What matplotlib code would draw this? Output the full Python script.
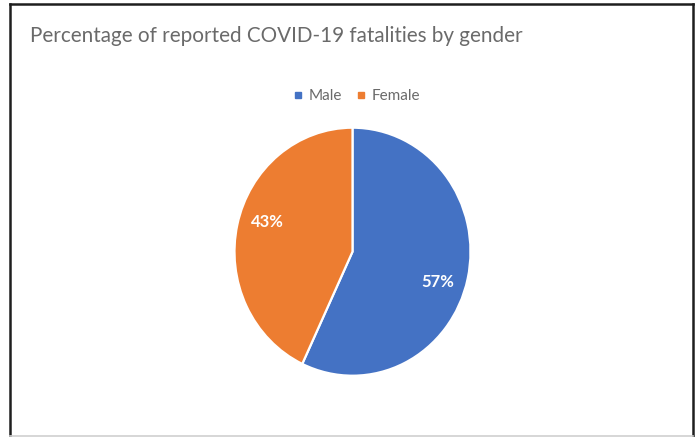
import matplotlib
matplotlib.use("Agg")
import numpy as np
import matplotlib.pyplot as plt
from matplotlib.lines import Line2D

# ---- data ----
categories = ["Male", "Female"]
values = [57, 43]
colors = ["#4472C4", "#ED7D31"]
title = "Percentage of reported COVID-19 fatalities by gender"

W, H = 697, 437
DPI = 100
plt.rcParams['font.family'] = ['Lato', 'DejaVu Sans']

fig = plt.figure(figsize=(W / DPI, H / DPI), dpi=DPI)
fig.patch.set_facecolor("white")

def fx(px):
    return px / W

def fy(py):
    return 1 - py / H

# ---- outer border (screenshot frame) ----
fig.add_artist(Line2D([fx(9.5), fx(9.5)], [fy(4), fy(436)], color="#1e1e1e", lw=1.8))
fig.add_artist(Line2D([fx(692.5), fx(692.5)], [fy(4), fy(436)], color="#1e1e1e", lw=1.8))
fig.add_artist(Line2D([fx(9.5), fx(692.5)], [fy(4), fy(4)], color="#1e1e1e", lw=1.8))
fig.add_artist(Line2D([fx(9.5), fx(692.5)], [fy(435.5), fy(435.5)], color="#cfcfcf", lw=1.2))

# ---- title, fitted to the reference width ----
t = fig.text(fx(30), fy(42.5), title, ha="left", va="baseline",
             color="#6a6a6a", fontsize=15)
fig.canvas.draw()
bb = t.get_window_extent()
target = 492.0
t.set_fontsize(15 * target / bb.width)

# ---- pie ----
cx, cy, rx, ry = 352.5, 251.7, 118, 124
ax = fig.add_axes([fx(cx - rx), fy(cy + ry), 2 * rx / W, 2 * ry / H])
wedges, texts, autotexts = ax.pie(
    values, colors=colors, startangle=90, counterclock=False,
    autopct="%1.0f%%", pctdistance=0.76,
    wedgeprops=dict(edgecolor="white", linewidth=1.6),
    textprops=dict(color="white", fontsize=12, fontweight="bold"))
for w in wedges:
    w.set_clip_on(False)
# nudge label positions slightly clockwise, as in the reference
rot = np.deg2rad(-6)
for at in autotexts:
    x, y = at.get_position()
    at.set_position((x * np.cos(rot) - y * np.sin(rot),
                     x * np.sin(rot) + y * np.cos(rot)))
ax.set_aspect("auto")
ax.set_xlim(-1, 1)
ax.set_ylim(-1, 1)

# ---- legend ----
handles = [Line2D([], [], marker="s", linestyle="none", color=c,
                  markersize=4.6) for c in colors]
leg = fig.legend(handles, categories, loc="center",
                 bbox_to_anchor=(fx(357.5), fy(96)), ncol=len(categories),
                 frameon=False, fontsize=11, handlelength=0.4,
                 handletextpad=0.45, columnspacing=1.1, borderpad=0)
for txt in leg.get_texts():
    txt.set_color("#6a6a6a")

fig.savefig("out.png", dpi=DPI, facecolor="white")
